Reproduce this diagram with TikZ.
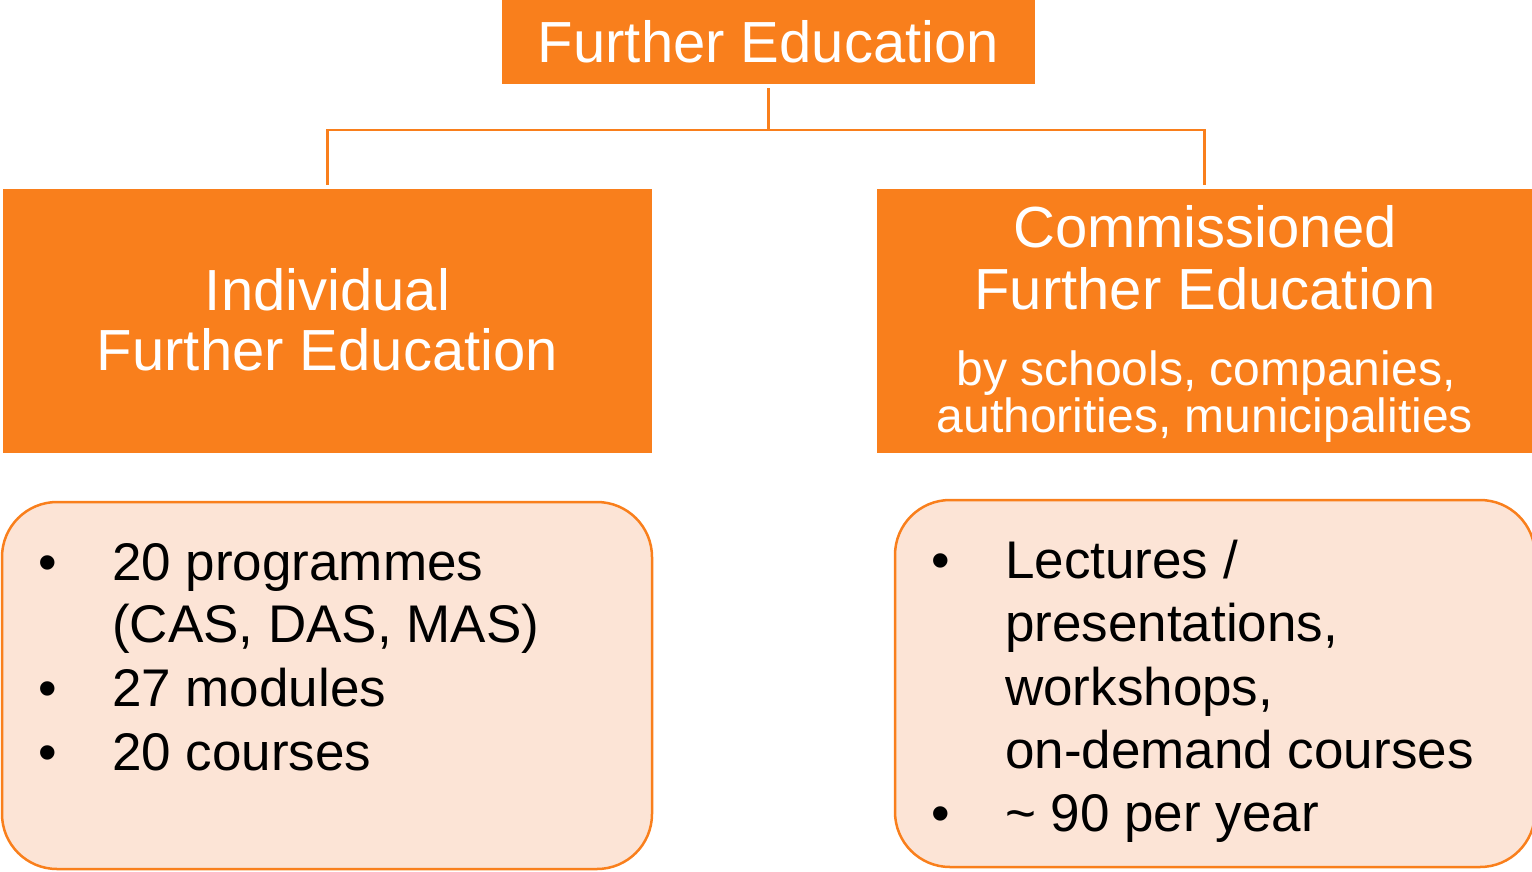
\documentclass[tikz,border=0pt]{standalone}
\usepackage{fontspec}
\setmainfont{Liberation Sans}
\definecolor{orng}{HTML}{F97F1C}
\definecolor{peach}{HTML}{FCE4D6}
\begin{document}
\begin{tikzpicture}[x=1pt,y=-1pt,
  obox/.style={fill=orng,draw=none,inner sep=0pt,outer sep=0pt},
  lbx/.style={fill=peach,draw=orng,line width=2.5pt,rounded corners=55pt,inner sep=0pt,outer sep=0pt},
  conn/.style={draw=orng,line width=2.5pt},
  big/.style={text=white,inner sep=0pt,anchor=base,font=\fontsize{58}{62}\selectfont},
  small/.style={text=white,inner sep=0pt,anchor=base,font=\fontsize{48}{50}\selectfont},
  item/.style={text=black,inner sep=0pt,anchor=base west,font=\fontsize{53}{60}\selectfont},
  bul/.style={text=black,inner sep=0pt,anchor=base,font=\fontsize{53}{60}\selectfont}]
\useasboundingbox (0,0) rectangle (1532,871);
% boxes
\node[obox,minimum width=533pt,minimum height=84pt] (top) at (768.5,42) {};
\node[obox,minimum width=649pt,minimum height=264pt] (lbox) at (327.5,321) {};
\node[obox,minimum width=655pt,minimum height=264pt] (rbox) at (1204.5,321) {};
\node[lbx,minimum width=650pt,minimum height=367pt] (llist) at (327,685.5) {};
\node[lbx,minimum width=640pt,minimum height=367pt] (rlist) at (1215,683.5) {};
% connectors
\coordinate (bar) at (768,130);
\draw[conn] ([yshift=-4pt]top.south) -- (top.south |- bar) -| ([yshift=4pt]lbox.north);
\draw[conn] (top.south |- bar) -| ([yshift=4pt]rbox.north);
% header texts
\node[big] (t0) at (768.5,62) {Further Education};
\node[big] (t1) at (327.5,310) {Individual};
\node[big] (t2) at (327.5,370) {Further Education};
\node[big] (t3) at (1205,247) {Commissioned};
\node[big] (t4) at (1205,309) {Further Education};
\node[small] (t5) at (1206,385) {by schools, companies,};
\node[small] (t6) at (1205,432) {authorities, municipalities};
% left list
\node[bul] (lb1) at (48,580) {\textbullet};
\node[item] (li1) at (112,580) {20 programmes};
\node[item] (li2) at (112,642) {(CAS, DAS, MAS)};
\node[bul] (lb2) at (48,706) {\textbullet};
\node[item] (li3) at (112,706) {27 modules};
\node[bul] (lb3) at (48,770) {\textbullet};
\node[item] (li4) at (112,770) {20 courses};
% right list
\node[bul] (rb1) at (941,578) {\textbullet};
\node[item] (ri1) at (1005,578) {Lectures /};
\node[item] (ri2) at (1005,641) {presentations,};
\node[item] (ri3) at (1005,705) {workshops,};
\node[item] (ri4) at (1005,768) {on-demand courses};
\node[bul] (rb2) at (941,831) {\textbullet};
\node[item] (ri5) at (1005,831) {\textasciitilde{} 90 per year};
\end{tikzpicture}
\end{document}
